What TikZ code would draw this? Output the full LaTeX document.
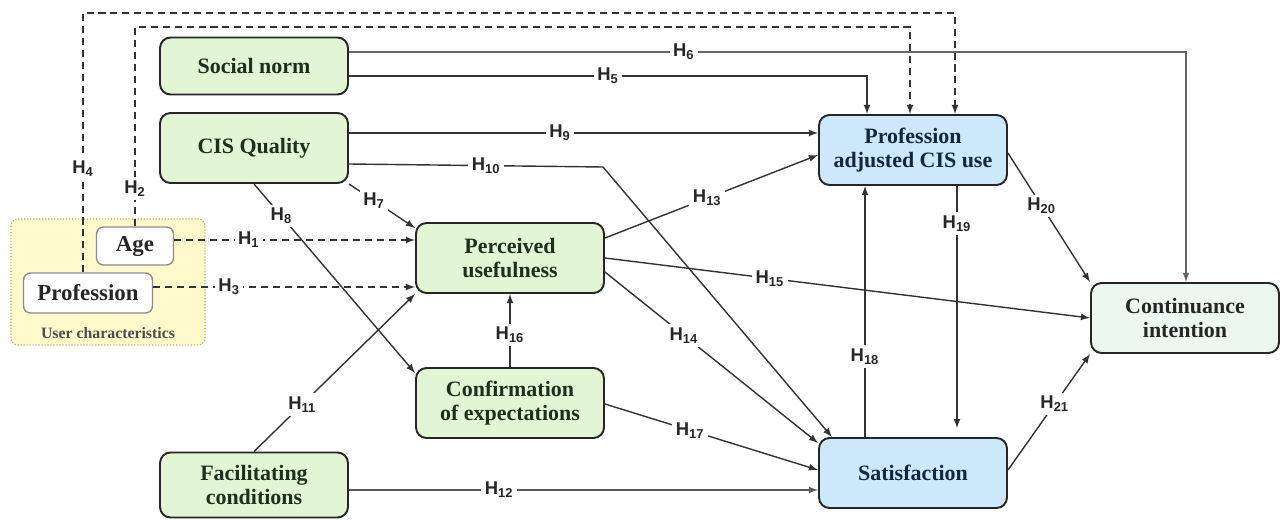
\documentclass[tikz,border=0pt]{standalone}
\usepackage{fontspec}
\setmainfont{Liberation Serif}
\setsansfont{Liberation Sans}
\usepackage{tikz}
\usetikzlibrary{calc}
\definecolor{cgreen}{RGB}{226,245,212}
\definecolor{cblue}{RGB}{204,232,250}
\definecolor{cmint}{RGB}{236,247,241}
\definecolor{cyellow}{RGB}{255,249,204}
\definecolor{cgold}{RGB}{196,176,92}
\definecolor{tgreen}{RGB}{28,48,28}
\definecolor{tblue}{RGB}{20,38,62}
\tikzset{
  construct/.style={draw=black!85, line width=1.1pt, rounded corners=6pt,
    minimum width=3.76cm, minimum height=1.4cm, align=center,
    font=\fontsize{12.5}{14}\selectfont\bfseries},
  green/.style={construct, fill=cgreen, text=tgreen},
  blue/.style={construct, fill=cblue, text=tblue},
  user/.style={draw=black!45, line width=0.8pt, rounded corners=4pt, fill=white,
    font=\fontsize{13}{15}\selectfont\bfseries, text=black!85},
  lbl/.style={fill=white, inner sep=2pt, font=\sffamily\bfseries\fontsize{10.5}{12}\selectfont, text=black!85},
  link/.style={-latex, line width=0.8pt, draw=black!80},
  dlink/.style={link, dash pattern=on 4pt off 2.8pt}
}
\begin{document}
\begin{tikzpicture}[x=0.02cm,y=-0.02cm]
    \useasboundingbox (0,0) rectangle (1282,520);
    \draw[cgold, fill=cyellow, densely dotted, line width=0.7pt, rounded corners=4pt] (11,219) rectangle (205,345);
    \node (uc) at (108,333) {\fontsize{9}{10}\selectfont\bfseries\color{black!70}User characteristics};
    \node[user, minimum width=1.54cm, minimum height=0.76cm] (ag) at (135,246) {Age};
    \node[user, minimum width=2.58cm, minimum height=0.8cm] (pr) at (88,293) {Profession};
    \node[green, minimum height=1.14cm] (sn) at (254,66) {Social norm};
    \node[green] (cq) at (254,148) {CIS Quality};
    \node[green] (pu) at (510,258) {Perceived\\usefulness};
    \node[green] (cf) at (510,403) {Confirmation\\of expectations};
    \node[green, minimum height=1.3cm] (fc) at (254,485) {Facilitating\\conditions};
    \node[blue] (pa) at (913,150) {Profession\\adjusted CIS use};
    \node[blue] (sa) at (913,473) {Satisfaction};
    \node[construct, fill=cmint, text=black!85] (ci) at (1185,318) {Continuance\\intention};

    \draw[dlink] (pr.north -| 83,0) -- node[lbl,pos=0.4] {H\textsubscript{4}} (83,13) -| (pa.north -| 955,0);
    \draw[dlink] (ag.north) -- node[lbl,pos=0.19] {H\textsubscript{2}} (ag.north |- 0,27) -| (pa.north -| 910,0);
    \draw[dlink] (ag.east |- 0,240) -- node[lbl,pos=0.31] {H\textsubscript{1}} (pu.west |- 0,240);
    \draw[dlink] (pr.east |- 0,287) -- node[lbl,pos=0.29] {H\textsubscript{3}} (pu.west |- 0,287);

    \draw[link, draw=black!60] (sn.east |- 0,52) -| node[lbl,pos=0.2] {H\textsubscript{6}} (ci.north -| 1186,0);
    \draw[link] (sn.east |- 0,76) -| node[lbl,pos=0.25] {H\textsubscript{5}} (pa.north -| 867,0);
    \draw[link] (cq.east |- 0,133) -- node[lbl,pos=0.45] {H\textsubscript{9}} (pa.west |- 0,133);
    \draw[link] (cq.east |- 0,164) -- node[lbl,pos=0.54] {H\textsubscript{10}} (603,167) -- (sa.north west -| 832,0);
    \draw[link] (cq.south east) -- node[lbl,pos=0.38] {H\textsubscript{7}} (pu.west |- 0,228);
    \draw[link] (cq.south) -- node[lbl,pos=0.17] {H\textsubscript{8}} (cf.north west |- 0,373);
    \draw[link] (fc.north) -- node[lbl,pos=0.3] {H\textsubscript{11}} (pu.south west);
    \draw[link, draw=black!65] (fc.east |- 0,490) -- node[lbl,pos=0.32] {H\textsubscript{12}} (sa.west |- 0,490);
    \draw[link] (pu.east |- 0,238) -- node[lbl,pos=0.48] {H\textsubscript{13}} (pa.west |- 0,155);
    \draw[link] (pu.east |- 0,272) -- node[lbl,pos=0.37] {H\textsubscript{14}} (sa.west |- 0,443);
    \draw[link] (pu.east) -- node[lbl,pos=0.34] {H\textsubscript{15}} (ci.west);
    \draw[link] (cf.north) -- node[lbl,pos=0.44] {H\textsubscript{16}} (pu.south);
    \draw[link] (cf.east |- 0,404) -- node[lbl,pos=0.4] {H\textsubscript{17}} (sa.west |- 0,470);
    \draw[link] (sa.north -| 865,0) -- node[lbl,pos=0.32] {H\textsubscript{18}} (pa.south -| 865,0);
    \draw[link, shorten >=5pt] (pa.south -| 957,0) -- node[lbl,pos=0.15] {H\textsubscript{19}} (sa.north -| 957,0);
    \draw[link] (pa.east |- 0,153) -- node[lbl,pos=0.41] {H\textsubscript{20}} (ci.north west);
    \draw[link] (sa.east |- 0,470) -- node[lbl,pos=0.57] {H\textsubscript{21}} (ci.south west);
\end{tikzpicture}
\end{document}
